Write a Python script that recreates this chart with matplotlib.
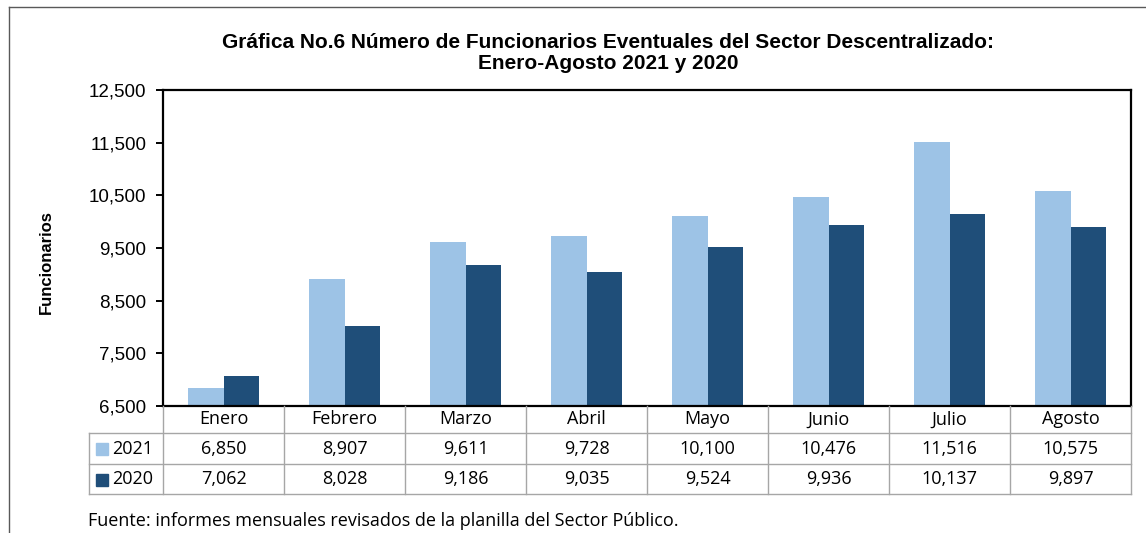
import matplotlib.pyplot as plt
import numpy as np
from matplotlib.patches import Rectangle
from matplotlib.lines import Line2D
from matplotlib.ticker import FuncFormatter

meses = ['Enero', 'Febrero', 'Marzo', 'Abril', 'Mayo', 'Junio', 'Julio', 'Agosto']
v2021 = [6850, 8907, 9611, 9728, 10100, 10476, 11516, 10575]
v2020 = [7062, 8028, 9186, 9035, 9524, 9936, 10137, 9897]
series = ['2021', '2020']
colores = ['#9DC3E6', '#1F4E79']

W, H = 1146, 533
fig = plt.figure(figsize=(W / 100, H / 100), dpi=100)

# grafica de barras
ax = fig.add_axes([163 / W, 1 - 406 / H, 968 / W, 316 / H])
x = np.arange(len(meses))
w = 0.29
ax.bar(x - w / 2, v2021, w, color=colores[0], label=series[0])
ax.bar(x + w / 2, v2020, w, color=colores[1], label=series[1])
ax.set_xlim(-0.5, len(meses) - 0.5)
ax.set_ylim(6500, 12500)
ax.set_yticks(range(6500, 12501, 1000))
ax.yaxis.set_major_formatter(FuncFormatter(lambda v, p: f'{v:,.0f}'))
ax.set_xticks([])
for s in ax.spines.values():
    s.set_linewidth(1.6)
    s.set_color('black')
ax.tick_params(axis='y', direction='out', length=5, width=1.4, pad=7)
for lb in ax.get_yticklabels():
    lb.set_fontfamily('Liberation Sans')
    lb.set_fontsize(13.5)

# tabla de datos
tab = fig.add_axes([163 / W, 1 - 494 / H, 968 / W, 88 / H])
tab.set_xlim(-0.5, len(meses) - 0.5)
tab.set_ylim(88, 0)
tab.axis('off')
lc = '#A6A6A6'
xl = -0.5 - (163 - 89) / 121
for k in range(len(meses) + 1):
    tab.plot([k - 0.5, k - 0.5], [0, 88], color=lc, lw=1, clip_on=False)
tab.plot([xl, xl], [27, 88], color=lc, lw=1, clip_on=False)
for yy in [27, 58, 88]:
    tab.plot([xl, len(meses) - 0.5], [yy, yy], color=lc, lw=1, clip_on=False)

tf = dict(family='Open Sans', fontsize=13, ha='center', va='center', color='black')
for i, m in enumerate(meses):
    tab.text(i, 13.5, m, **tf)
    tab.text(i, 43, f'{v2021[i]:,}', **tf)
    tab.text(i, 73.5, f'{v2020[i]:,}', **tf)

for r, (nombre, col) in enumerate(zip(series, colores)):
    yc = 43 + r * 30.5
    tab.add_patch(Rectangle((-0.5 - (163 - 96) / 121, yc - 6), 12 / 121, 12,
                            color=col, clip_on=False))
    tab.text(-0.5 - (163 - 112) / 121, yc, nombre, family='Open Sans', fontsize=13,
             ha='left', va='center')

# textos
fig.text(608 / W, 1 - 53 / H,
         'Gráfica No.6 Número de Funcionarios Eventuales del Sector Descentralizado:\n'
         'Enero-Agosto 2021 y 2020',
         ha='center', va='center', family='Liberation Sans', fontweight='bold',
         fontsize=15, linespacing=1.12)
fig.text(46 / W, 1 - 262 / H, 'Funcionarios', rotation=90, ha='center', va='center',
         family='Liberation Sans', fontweight='bold', fontsize=12)
fig.text(88 / W, 1 - 521 / H,
         'Fuente: informes mensuales revisados de la planilla del Sector Público.',
         ha='left', va='center', family='Open Sans', fontsize=13)

# borde
fig.add_artist(Line2D([9 / W, 9 / W], [0, 1 - 7 / H], color='#595959', lw=1))
fig.add_artist(Line2D([9 / W, 1], [1 - 7 / H, 1 - 7 / H], color='#595959', lw=1))

fig.savefig('out.png', dpi=100)
